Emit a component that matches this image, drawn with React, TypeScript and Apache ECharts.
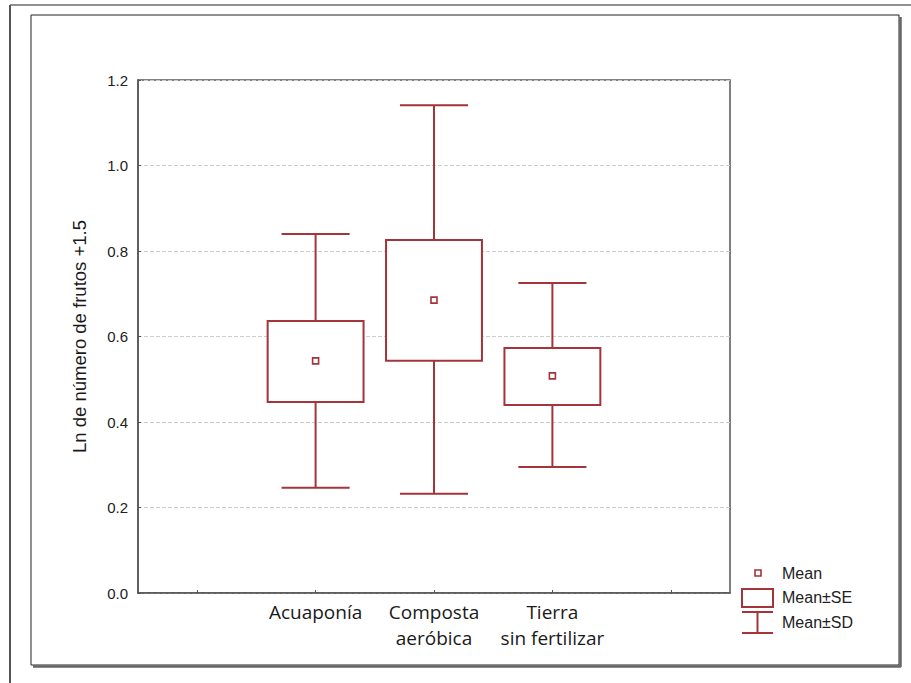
import React, { useEffect, useRef } from "react";
import * as echarts from "echarts";

const categories = ["", "Acuaponía", "Composta\naeróbica", "Tierra\nsin fertilizar", ""];
const groupIndex = [1, 2, 3];
const means = [0.543, 0.685, 0.508];
const seLow = [0.447, 0.543, 0.44];
const seHigh = [0.636, 0.826, 0.573];
const sdLow = [0.246, 0.232, 0.295];
const sdHigh = [0.84, 1.141, 0.725];
const legendLabels = ["Mean", "Mean±SE", "Mean±SD"];

const RED = "#a3343a";

export default function App() {
  const ref = useRef<HTMLDivElement>(null);
  useEffect(() => {
    if (!ref.current) return;
    const chart = echarts.init(ref.current, null, { renderer: "svg" });
    const data = groupIndex.map((g, i) => [g, means[i], seLow[i], seHigh[i], sdLow[i], sdHigh[i]]);
    const option: any = {
      animation: false,
      backgroundColor: "#ffffff",
      grid: {
        left: 138,
        top: 80,
        right: 181,
        bottom: 90,
        show: true,
        borderColor: "#555",
        borderWidth: 1.5,
        backgroundColor: "transparent",
      },
      xAxis: {
        type: "category",
        data: categories,
        boundaryGap: true,
        axisLine: { show: true, lineStyle: { color: "#555", width: 1.5 } },
        axisTick: { show: true, alignWithLabel: true, inside: true, length: 3, lineStyle: { color: "#555" } },
        axisLabel: {
          color: "#1a1a1a",
          fontFamily: "Open Sans",
          fontSize: 19,
          lineHeight: 26,
          margin: 6,
          interval: 0,
        },
        splitLine: { show: false },
      },
      yAxis: {
        type: "value",
        min: 0,
        max: 1.2,
        interval: 0.2,
        name: "Ln de número de frutos +1.5",
        nameLocation: "middle",
        nameGap: 49,
        nameTextStyle: { color: "#1a1a1a", fontFamily: "Liberation Sans", fontSize: 18.5 },
        axisLine: { show: true, lineStyle: { color: "#555", width: 1.5 } },
        axisTick: { show: true, inside: true, length: 3, lineStyle: { color: "#555" } },
        axisLabel: {
          color: "#222",
          fontFamily: "Liberation Sans",
          fontSize: 15,
          margin: 10,
          formatter: (v: number) => v.toFixed(1),
        },
        splitLine: { show: true, lineStyle: { color: "#cccccc", type: "dashed", width: 1 } },
      },
      series: [
        {
          type: "custom",
          data,
          encode: { x: 0, y: 1 },
          renderItem: (params: any, api: any) => {
            const x = api.value(0);
            const band = api.size([1, 0])[0];
            const boxW = band * 0.81;
            const capW = band * 0.575;
            const pm = api.coord([x, api.value(1)]);
            const pSeL = api.coord([x, api.value(2)]);
            const pSeH = api.coord([x, api.value(3)]);
            const pSdL = api.coord([x, api.value(4)]);
            const pSdH = api.coord([x, api.value(5)]);
            const cx = pm[0];
            const ls = { stroke: RED, lineWidth: 2, fill: "none" };
            return {
              type: "group",
              children: [
                { type: "line", shape: { x1: cx, y1: pSeH[1], x2: cx, y2: pSdH[1] }, style: ls },
                { type: "line", shape: { x1: cx, y1: pSeL[1], x2: cx, y2: pSdL[1] }, style: ls },
                { type: "line", shape: { x1: cx - capW / 2, y1: pSdH[1], x2: cx + capW / 2, y2: pSdH[1] }, style: ls },
                { type: "line", shape: { x1: cx - capW / 2, y1: pSdL[1], x2: cx + capW / 2, y2: pSdL[1] }, style: ls },
                {
                  type: "rect",
                  shape: { x: cx - boxW / 2, y: pSeH[1], width: boxW, height: pSeL[1] - pSeH[1] },
                  style: { stroke: RED, lineWidth: 2, fill: "#ffffff" },
                },
                {
                  type: "rect",
                  shape: { x: cx - 3, y: pm[1] - 3, width: 6, height: 6 },
                  style: { stroke: RED, lineWidth: 1.6, fill: "#ffffff" },
                },
              ],
            };
          },
        },
      ],
      graphic: [
        { type: "line", shape: { x1: 10, y1: 5, x2: 911, y2: 5 }, style: { stroke: "#222", lineWidth: 1.2 } },
        { type: "line", shape: { x1: 10, y1: 5, x2: 10, y2: 683 }, style: { stroke: "#555", lineWidth: 2 } },
        { type: "rect", shape: { x: 31, y: 15, width: 868, height: 650 }, style: { stroke: "#222", lineWidth: 1, fill: "none" } },
        { type: "line", shape: { x1: 900.5, y1: 17, x2: 900.5, y2: 667 }, style: { stroke: "#666", lineWidth: 2.5 } },
        { type: "line", shape: { x1: 33, y1: 666.5, x2: 901, y2: 666.5 }, style: { stroke: "#666", lineWidth: 2.5 } },
        // legend
        { type: "rect", shape: { x: 755, y: 570, width: 6, height: 6 }, style: { stroke: RED, lineWidth: 1.6, fill: "#fff" } },
        { type: "rect", shape: { x: 742, y: 589, width: 31, height: 18 }, style: { stroke: RED, lineWidth: 2, fill: "#fff" } },
        { type: "line", shape: { x1: 742, y1: 612, x2: 773, y2: 612 }, style: { stroke: RED, lineWidth: 2 } },
        { type: "line", shape: { x1: 757.5, y1: 612, x2: 757.5, y2: 633 }, style: { stroke: RED, lineWidth: 2 } },
        { type: "line", shape: { x1: 742, y1: 633, x2: 773, y2: 633 }, style: { stroke: RED, lineWidth: 2 } },
        ...legendLabels.map((t, i) => ({
          type: "text",
          x: 782,
          y: 573 + i * 24.5,
          style: {
            text: t,
            fill: "#222",
            font: "16px 'Liberation Sans'",
            verticalAlign: "middle",
            align: "left",
          },
        })),
      ],
    };
    chart.setOption(option);
    return () => chart.dispose();
  }, []);
  return (
    <div
      ref={ref}
      style={{ position: "fixed", left: 0, top: 0, width: 911, height: 683, background: "#fff" }}
    />
  );
}
